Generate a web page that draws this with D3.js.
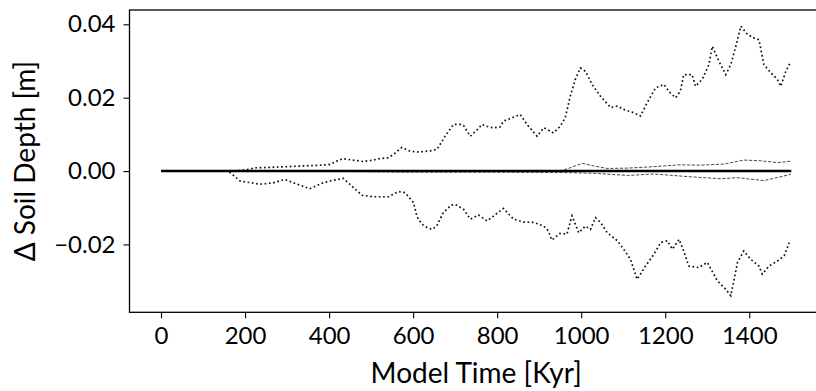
<!DOCTYPE html>
<html>
<head>
<meta charset="utf-8">
<script src="https://cdn.jsdelivr.net/npm/d3@7"></script>
<style>
  body { margin: 0; background: #fff; }
  svg { display: block; font-family: Lato, sans-serif; }
</style>
</head>
<body>
<svg id="chart" width="816" height="391"></svg>
<script>
// model time [kyr] vs change in soil depth [m]
const upperDotted = [[0,0],[170,0],[200,0.0003],[227,0.0009],[260,0.0010],[300,0.0012],[340,0.0014],[380,0.0016],[402,0.0018],[420,0.0028],[433,0.0034],[455,0.0030],[481,0.0026],[500,0.0029],[521,0.0034],[540,0.0036],[553,0.0045],[573,0.0064],[593,0.0054],[610,0.0052],[624,0.0053],[640,0.0055],[657,0.0059],[676,0.0095],[696,0.0127],[712,0.0127],[720,0.0124],[736,0.0095],[752,0.0112],[764,0.0127],[780,0.0120],[791,0.0118],[807,0.0120],[815,0.0136],[835,0.0145],[855,0.0154],[871,0.0127],[895,0.0095],[911,0.0118],[934,0.0104],[950,0.0122],[962,0.0145],[974,0.0204],[986,0.0250],[998,0.0281],[1010,0.0272],[1026,0.0236],[1046,0.0204],[1070,0.0173],[1086,0.0177],[1101,0.0168],[1125,0.0159],[1141,0.0150],[1157,0.0186],[1177,0.0227],[1197,0.0236],[1210,0.0215],[1225,0.0200],[1236,0.0218],[1244,0.0263],[1264,0.0263],[1272,0.0231],[1288,0.0250],[1304,0.0290],[1312,0.0340],[1328,0.0299],[1344,0.0263],[1356,0.0290],[1368,0.0340],[1380,0.0395],[1396,0.0372],[1411,0.0363],[1423,0.0358],[1435,0.0290],[1451,0.0268],[1467,0.0250],[1475,0.0231],[1487,0.0272],[1499,0.0299]];

const lowerDotted = [[0,0],[160,0],[188,-0.0027],[235,-0.0036],[267,-0.0032],[295,-0.0023],[315,-0.0032],[354,-0.0048],[386,-0.0032],[402,-0.0027],[434,-0.0020],[458,-0.0045],[478,-0.0066],[505,-0.0070],[541,-0.0070],[565,-0.0056],[581,-0.0059],[601,-0.0086],[609,-0.0124],[621,-0.0145],[633,-0.0154],[645,-0.0159],[656,-0.0150],[672,-0.0113],[690,-0.0093],[700,-0.0091],[720,-0.0104],[736,-0.0131],[756,-0.0120],[776,-0.0136],[800,-0.0115],[815,-0.0102],[839,-0.0131],[863,-0.0139],[887,-0.0140],[911,-0.0150],[922,-0.0163],[930,-0.0188],[950,-0.0170],[966,-0.0172],[978,-0.0122],[994,-0.0168],[1010,-0.0150],[1022,-0.0159],[1034,-0.0127],[1046,-0.0140],[1062,-0.0168],[1086,-0.0190],[1101,-0.0213],[1117,-0.0240],[1125,-0.0267],[1133,-0.0295],[1141,-0.0281],[1153,-0.0259],[1173,-0.0227],[1189,-0.0195],[1205,-0.0190],[1217,-0.0213],[1233,-0.0186],[1244,-0.0218],[1256,-0.0259],[1280,-0.0263],[1300,-0.0249],[1324,-0.0299],[1344,-0.0322],[1356,-0.0340],[1364,-0.0295],[1372,-0.0249],[1387,-0.0218],[1403,-0.0240],[1423,-0.0259],[1431,-0.0281],[1447,-0.0259],[1467,-0.0245],[1483,-0.0231],[1495,-0.0195]];

const upperDashed = [[0,0],[250,0.0001],[600,0.0001],[951,0.0000],[974,0.0009],[1002,0.0021],[1030,0.0014],[1062,0.0007],[1110,0.0008],[1173,0.0012],[1236,0.0017],[1284,0.0016],[1340,0.0019],[1387,0.0030],[1427,0.0028],[1467,0.0023],[1499,0.0027]];

const lowerDashed = [[0,0],[400,-0.0001],[600,-0.0003],[800,-0.0003],[951,-0.0004],[1030,-0.0006],[1110,-0.0012],[1173,-0.0008],[1252,-0.0015],[1332,-0.0021],[1371,-0.0018],[1435,-0.0026],[1499,-0.0009]];

const meanLine = [[0,0],[1500,0]];

const xTicks = [0,200,400,600,800,1000,1200,1400];
const yTicks = [-0.02,0,0.02,0.04];

const svg = d3.select("#chart");
const plot = {left: 129.5, right: 822.8, top: 10, bottom: 312.3};

const x = d3.scaleLinear().domain([-75,1575]).range([plot.left, plot.right]);
const y = d3.scaleLinear().domain([-0.0385,0.0439]).range([plot.bottom, plot.top]);

const line = d3.line().x(d => x(d[0])).y(d => y(d[1]));

svg.append("clipPath").attr("id","clip")
  .append("rect")
  .attr("x", plot.left).attr("y", plot.top)
  .attr("width", plot.right - plot.left).attr("height", plot.bottom - plot.top);

const g = svg.append("g").attr("clip-path","url(#clip)");

// thin dashed envelope
[upperDashed, lowerDashed].forEach(s => {
  g.append("path").datum(s)
    .attr("d", line)
    .attr("fill","none")
    .attr("stroke","#333")
    .attr("stroke-width",0.9)
    .attr("stroke-dasharray","3.2,1.6");
});

// dotted envelope
[upperDotted, lowerDotted].forEach(s => {
  g.append("path").datum(s)
    .attr("d", line)
    .attr("fill","none")
    .attr("stroke","#111")
    .attr("stroke-width",1.7)
    .attr("stroke-dasharray","1.7,2.6");
});

g.append("path").datum(meanLine)
  .attr("d", line)
  .attr("fill","none")
  .attr("stroke","#000")
  .attr("stroke-width",2.6);

// axes
const xAxis = svg.append("g")
  .attr("transform",`translate(0,${plot.bottom})`)
  .call(d3.axisBottom(x).tickValues(xTicks).tickSize(6).tickSizeOuter(0).tickPadding(9).tickFormat(d3.format("d")));

const yAxis = svg.append("g")
  .attr("transform",`translate(${plot.left},0)`)
  .call(d3.axisLeft(y).tickValues(yTicks).tickSize(6).tickSizeOuter(0).tickPadding(8).tickFormat(d3.format(".2f")));

[xAxis, yAxis].forEach(a => {
  a.select(".domain").remove();
  a.selectAll(".tick line").attr("stroke","#000").attr("stroke-width",1.1);
  a.selectAll(".tick text").attr("fill","#000").style("font-size","24px").style("font-family","Lato, sans-serif");
});

// frame (right edge falls outside the picture)
svg.append("rect")
  .attr("x", plot.left).attr("y", plot.top)
  .attr("width", plot.right - plot.left).attr("height", plot.bottom - plot.top)
  .attr("fill","none").attr("stroke","#000").attr("stroke-width",1.3);

svg.append("text")
  .attr("x", (plot.left + plot.right) / 2)
  .attr("y", 383)
  .attr("text-anchor","middle")
  .style("font-size","28px")
  .text("Model Time [Kyr]");

svg.append("text")
  .attr("transform",`translate(35,${(plot.top + plot.bottom) / 2}) rotate(-90)`)
  .attr("text-anchor","middle")
  .style("font-size","28px")
  .text("Δ Soil Depth [m]");
</script>
</body>
</html>
